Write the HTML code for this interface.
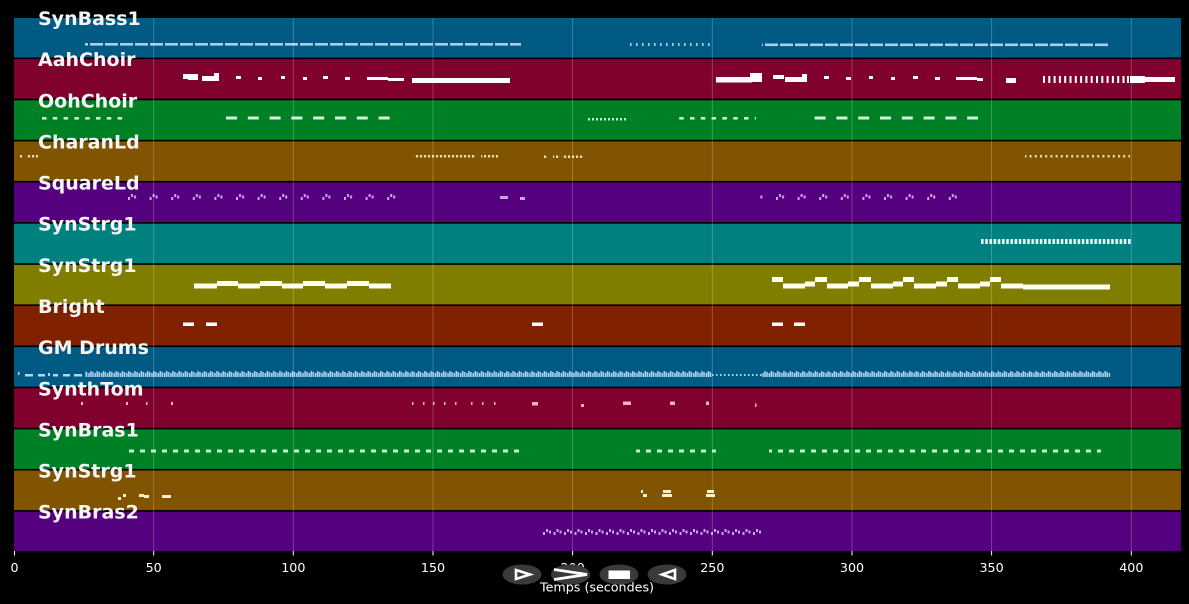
<!DOCTYPE html>
<html><head><meta charset="utf-8"><style>
html,body{margin:0;padding:0;background:#000;}
svg{display:block;}
</style></head><body>
<svg width="1189" height="604" viewBox="0 0 1189 604" xmlns="http://www.w3.org/2000/svg">
<defs>
  <pattern id="pB" x="0" y="0" width="15" height="20" patternUnits="userSpaceOnUse"><rect width="13" height="20" fill="#a8d0ec"/></pattern>
  <pattern id="pBt" x="0" y="0" width="6" height="20" patternUnits="userSpaceOnUse"><rect width="1.6" height="20" fill="#a8d0ec"/></pattern>
  <pattern id="pO1" x="42" y="0" width="10.8" height="20" patternUnits="userSpaceOnUse"><rect width="4.5" height="20" fill="#cfeed6"/></pattern>
  <pattern id="pO2" x="226" y="0" width="21.8" height="20" patternUnits="userSpaceOnUse"><rect width="11" height="20" fill="#d6f2dc"/></pattern>
  <pattern id="pO3" x="0" y="0" width="4" height="20" patternUnits="userSpaceOnUse"><rect width="2" height="20" fill="#cfeed6"/></pattern>
  <pattern id="pC" x="0" y="0" width="4" height="20" patternUnits="userSpaceOnUse"><rect width="2.2" height="20" fill="#f0dcae"/></pattern>
  <pattern id="pC5" x="0" y="0" width="5.2" height="20" patternUnits="userSpaceOnUse"><rect width="2" height="20" fill="#f0dcae"/></pattern>
  <pattern id="pS" x="128" y="194" width="21.6" height="7" patternUnits="userSpaceOnUse"><rect x="0" y="3" width="2" height="3" fill="#c9a6e6"/><rect x="3" y="0" width="2" height="3" fill="#c9a6e6"/><rect x="6" y="1.5" width="2" height="3" fill="#c9a6e6"/></pattern>
  <pattern id="pS2" x="543" y="529" width="10.5" height="7" patternUnits="userSpaceOnUse"><rect x="0" y="3" width="2" height="3" fill="#c9a6e6"/><rect x="3" y="0" width="2" height="3" fill="#c9a6e6"/><rect x="6" y="1.5" width="2" height="3" fill="#c9a6e6"/></pattern>
  <pattern id="pT" x="981" y="0" width="4.2" height="20" patternUnits="userSpaceOnUse"><rect width="2.6" height="20" fill="#e6f6f6"/></pattern>
  <pattern id="pD" x="0" y="371" width="6.3" height="6" patternUnits="userSpaceOnUse"><rect x="0" y="2" width="1.5" height="4" fill="#b0d6f0"/><rect x="2" y="0" width="1.5" height="6" fill="#b0d6f0"/><rect x="4" y="1" width="1.5" height="5" fill="#b0d6f0"/></pattern>
  <pattern id="pDd" x="0" y="0" width="4" height="20" patternUnits="userSpaceOnUse"><rect width="1.5" height="20" fill="#b0d6f0"/></pattern>
  <pattern id="pG" x="129" y="0" width="11" height="20" patternUnits="userSpaceOnUse"><rect width="5" height="20" fill="#c8f0d0"/></pattern>
</defs>
<rect width="1189" height="604" fill="#000"/>

<!-- bands -->
<rect x="14" y="18" width="1167" height="39.5" fill="#005a84"/>
<rect x="14" y="59.14" width="1167" height="39.5" fill="#80002e"/>
<rect x="14" y="100.28" width="1167" height="39.5" fill="#008024"/>
<rect x="14" y="141.42" width="1167" height="39.5" fill="#805400"/>
<rect x="14" y="182.56" width="1167" height="39.5" fill="#55007f"/>
<rect x="14" y="223.7" width="1167" height="39.5" fill="#00807e"/>
<rect x="14" y="264.84" width="1167" height="39.5" fill="#807e00"/>
<rect x="14" y="305.98" width="1167" height="39.5" fill="#802200"/>
<rect x="14" y="347.12" width="1167" height="39.5" fill="#005a84"/>
<rect x="14" y="388.26" width="1167" height="39.5" fill="#80002e"/>
<rect x="14" y="429.4" width="1167" height="39.5" fill="#008024"/>
<rect x="14" y="470.54" width="1167" height="39.5" fill="#805400"/>
<rect x="14" y="511.68" width="1167" height="39.5" fill="#55007f"/>

<!-- Band 0 SynBass1 -->
<rect x="85" y="43" width="436" height="2.6" fill="url(#pB)"/>
<rect x="630" y="43" width="82" height="3" fill="url(#pBt)"/>
<rect x="762" y="43.5" width="348" height="2.6" fill="url(#pB)"/>

<!-- Band 1 AahChoir -->
<g fill="#ffffff">
<rect x="183" y="74" width="15" height="5"/>
<rect x="188" y="76" width="10" height="4"/>
<rect x="202" y="76" width="17" height="5"/>
<rect x="214" y="73" width="5" height="8"/>
<rect x="236" y="76" width="5" height="3"/>
<rect x="258" y="77" width="4" height="3"/>
<rect x="281" y="76" width="4" height="3"/>
<rect x="303" y="77" width="4" height="3"/>
<rect x="323" y="76" width="5" height="3"/>
<rect x="345" y="77" width="5" height="3"/>
<rect x="367" y="77" width="21" height="3"/>
<rect x="388" y="78" width="16" height="3"/>
<rect x="412" y="78" width="98" height="5"/>
<rect x="716" y="77" width="36" height="5.5"/>
<rect x="750" y="73" width="12" height="9"/>
<rect x="773" y="75" width="11" height="4"/>
<rect x="785" y="77" width="22" height="5"/>
<rect x="802" y="74" width="5" height="8"/>
<rect x="824" y="76" width="5" height="3"/>
<rect x="846" y="77" width="5" height="3"/>
<rect x="869" y="76" width="4" height="3"/>
<rect x="891" y="77" width="4" height="3"/>
<rect x="913" y="76" width="5" height="3"/>
<rect x="935" y="77" width="5" height="3"/>
<rect x="956" y="77" width="21" height="3"/>
<rect x="977" y="78" width="6" height="3"/>
<rect x="1006" y="78" width="10" height="5"/>
<rect x="1130" y="77" width="45" height="5"/>
<rect x="1130" y="76" width="15" height="7"/>
</g>
<rect x="1043" y="76" width="85" height="7" fill="url(#pC5)" opacity="0"/>
<g fill="#ffffff">
<rect x="1043" y="76" width="2" height="7"/><rect x="1048.3" y="76" width="2" height="7"/><rect x="1053.6" y="76" width="2" height="7"/><rect x="1058.9" y="76" width="2" height="7"/><rect x="1064.2" y="76" width="2" height="7"/><rect x="1069.5" y="76" width="2" height="7"/><rect x="1074.8" y="76" width="2" height="7"/><rect x="1080.1" y="76" width="2" height="7"/><rect x="1085.4" y="76" width="2" height="7"/><rect x="1090.7" y="76" width="2" height="7"/><rect x="1096" y="76" width="2" height="7"/><rect x="1101.3" y="76" width="2" height="7"/><rect x="1106.6" y="76" width="2" height="7"/><rect x="1111.9" y="76" width="2" height="7"/><rect x="1117.2" y="76" width="2" height="7"/><rect x="1122.5" y="76" width="2" height="7"/><rect x="1127" y="76" width="2" height="7"/>
</g>

<!-- Band 2 OohChoir -->
<rect x="42" y="117" width="83" height="2.6" fill="url(#pO1)"/>
<rect x="226" y="116.5" width="164" height="3" fill="url(#pO2)"/>
<rect x="587" y="118" width="40" height="2.5" fill="url(#pO3)"/>
<rect x="674" y="117" width="82" height="2.6" fill="url(#pO1)"/>
<rect x="814" y="116.5" width="164" height="3" fill="url(#pO2)"/>

<!-- Band 3 CharanLd -->
<rect x="20" y="155" width="2" height="2.5" fill="#f0dcae"/>
<rect x="26" y="155" width="12" height="2.5" fill="url(#pC)"/>
<rect x="414" y="155" width="61" height="2.5" fill="url(#pC)"/>
<rect x="481" y="155" width="17" height="2.5" fill="url(#pC)"/>
<rect x="543" y="155.5" width="5" height="2.5" fill="url(#pC)"/>
<rect x="553" y="155.5" width="6" height="2.5" fill="url(#pC)"/>
<rect x="562" y="155.5" width="22" height="2.5" fill="url(#pC)"/>
<rect x="1025" y="155" width="105" height="2.5" fill="url(#pC5)"/>

<!-- Band 4 SquareLd -->
<rect x="128" y="194" width="272" height="7" fill="url(#pS)"/>
<rect x="500" y="196" width="8" height="3" fill="#c9a6e6"/>
<rect x="520" y="197" width="5" height="3" fill="#c9a6e6"/>
<rect x="760" y="194" width="200" height="7" fill="url(#pS)"/>

<!-- Band 5 SynStrg1 teal -->
<rect x="981" y="239" width="151" height="5" fill="url(#pT)"/>

<!-- Band 6 SynStrg1 olive -->
<g fill="#fffff0">
<rect x="194" y="283.5" width="23" height="5"/>
<rect x="217" y="281" width="21" height="5"/>
<rect x="238" y="283.5" width="22" height="5"/>
<rect x="260" y="281" width="22" height="5"/>
<rect x="282" y="283.5" width="21" height="5"/>
<rect x="303" y="281" width="22" height="5"/>
<rect x="325" y="283.5" width="22" height="5"/>
<rect x="347" y="281" width="22" height="5"/>
<rect x="369" y="283.5" width="22" height="5"/>

<rect x="772" y="277" width="11" height="5"/>
<rect x="783" y="283.5" width="22" height="5"/>
<rect x="805" y="281.5" width="10" height="5"/>
<rect x="815" y="277" width="12" height="5"/>
<rect x="827" y="283.5" width="21" height="5"/>
<rect x="848" y="281.5" width="11" height="5"/>
<rect x="859" y="277" width="12" height="5"/>
<rect x="871" y="283.5" width="22" height="5"/>
<rect x="893" y="281.5" width="10" height="5"/>
<rect x="903" y="277" width="11" height="5"/>
<rect x="914" y="283.5" width="22" height="5"/>
<rect x="936" y="281.5" width="11" height="5"/>
<rect x="947" y="277" width="11" height="5"/>
<rect x="958" y="283.5" width="22" height="5"/>
<rect x="980" y="281.5" width="10" height="5"/>
<rect x="990" y="277" width="11" height="5"/>
<rect x="1001" y="283.5" width="22" height="5"/>
<rect x="1023" y="284.5" width="87" height="5"/>
</g>

<!-- Band 7 Bright -->
<g fill="#ffffff">
<rect x="183" y="322.5" width="11" height="3.5"/>
<rect x="206" y="322.5" width="11" height="3.5"/>
<rect x="532" y="322.5" width="11" height="3.5"/>
<rect x="772" y="322.5" width="11" height="3.5"/>
<rect x="794" y="322.5" width="11" height="3.5"/>
</g>

<!-- Band 8 GM Drums -->
<g fill="#b0d6f0">
<rect x="18" y="372" width="1.5" height="3"/>
<rect x="25" y="374" width="8" height="2.5"/>
<rect x="38" y="374" width="7" height="2.5"/>
<rect x="48" y="373" width="2" height="3"/>
<rect x="53" y="374" width="5" height="2.5"/>
<rect x="63" y="374" width="7" height="2.5"/>
<rect x="74" y="374" width="8" height="2.5"/>
</g>
<rect x="85" y="371" width="627" height="6" fill="url(#pD)"/>
<rect x="712" y="374" width="50" height="2" fill="url(#pDd)"/>
<rect x="762" y="371" width="348" height="6" fill="url(#pD)"/>

<!-- Band 9 SynthTom -->
<g fill="#f0b4c8">
<rect x="81" y="402" width="2" height="3"/>
<rect x="126" y="402" width="2" height="3"/>
<rect x="146" y="402" width="1.5" height="3"/>
<rect x="171" y="402" width="2" height="3"/>
<rect x="412" y="402" width="1.5" height="3"/>
<rect x="423" y="402" width="1.5" height="3"/>
<rect x="433" y="402" width="1.5" height="3"/>
<rect x="444" y="402" width="1.5" height="3"/>
<rect x="455" y="402" width="1.5" height="3"/>
<rect x="471" y="402" width="1.5" height="3"/>
<rect x="482" y="402" width="1.5" height="3"/>
<rect x="494" y="402" width="1.5" height="3"/>
<rect x="532" y="402" width="6" height="3.5"/>
<rect x="581" y="404" width="3" height="3"/>
<rect x="623" y="401.5" width="8" height="3.5"/>
<rect x="670" y="401.5" width="5" height="3.5"/>
<rect x="706" y="401.5" width="3" height="3.5"/>
<rect x="755" y="403.5" width="1.5" height="3.5"/>
</g>

<!-- Band 10 SynBras1 -->
<rect x="129" y="449.5" width="391" height="3" fill="url(#pG)"/>
<rect x="636" y="449.5" width="80" height="3" fill="url(#pG)"/>
<rect x="769" y="449.5" width="332" height="3" fill="url(#pG)"/>

<!-- Band 11 SynStrg1 brown -->
<g fill="#fff0c8">
<rect x="118" y="497" width="3" height="3"/>
<rect x="123" y="494" width="3" height="3"/>
<rect x="139" y="494" width="5" height="3"/>
<rect x="144" y="495" width="5" height="3"/>
<rect x="162" y="495" width="9" height="3"/>
<rect x="641" y="490" width="2" height="3"/>
<rect x="643" y="494" width="4" height="3"/>
<rect x="663" y="490" width="8" height="3"/>
<rect x="662" y="494" width="10" height="3"/>
<rect x="707" y="490" width="7" height="3"/>
<rect x="706" y="494" width="9" height="3"/>
</g>

<!-- Band 12 SynBras2 -->
<rect x="543" y="529" width="219" height="7" fill="url(#pS2)"/>

<!-- gridlines -->
<g stroke="#ffffff" stroke-opacity="0.25" stroke-width="0.9">
<line x1="153.7" y1="18" x2="153.7" y2="551"/>
<line x1="293.3" y1="18" x2="293.3" y2="551"/>
<line x1="433" y1="18" x2="433" y2="551"/>
<line x1="572.6" y1="18" x2="572.6" y2="551"/>
<line x1="712.3" y1="18" x2="712.3" y2="551"/>
<line x1="852" y1="18" x2="852" y2="551"/>
<line x1="991.6" y1="18" x2="991.6" y2="551"/>
<line x1="1131.3" y1="18" x2="1131.3" y2="551"/>
</g>

<!-- ticks -->
<g stroke="#ffffff" stroke-width="1">
<line x1="14.5" y1="551" x2="14.5" y2="555.5"/>
<line x1="153.7" y1="551" x2="153.7" y2="555.5"/>
<line x1="293.3" y1="551" x2="293.3" y2="555.5"/>
<line x1="433" y1="551" x2="433" y2="555.5"/>
<line x1="572.6" y1="551" x2="572.6" y2="555.5"/>
<line x1="712.3" y1="551" x2="712.3" y2="555.5"/>
<line x1="852" y1="551" x2="852" y2="555.5"/>
<line x1="991.6" y1="551" x2="991.6" y2="555.5"/>
<line x1="1131.3" y1="551" x2="1131.3" y2="555.5"/>
</g>
<g font-family="'DejaVu Sans', 'Liberation Sans', sans-serif" font-size="12.7" fill="#ffffff" text-anchor="middle">
<text x="14.5" y="572">0</text>
<text x="153.7" y="572">50</text>
<text x="293.3" y="572">100</text>
<text x="433" y="572">150</text>
<text x="572.6" y="572">200</text>
<text x="712.3" y="572">250</text>
<text x="852" y="572">300</text>
<text x="991.6" y="572">350</text>
<text x="1131.3" y="572">400</text>
</g>

<!-- track labels -->
<g font-family="'DejaVu Sans', 'Liberation Sans', sans-serif" font-weight="bold" font-size="19" fill="#f5f5f5">
<text x="38" y="25">SynBass1</text>
<text x="38" y="66.1">AahChoir</text>
<text x="38" y="107.3">OohChoir</text>
<text x="38" y="148.4">CharanLd</text>
<text x="38" y="189.6">SquareLd</text>
<text x="38" y="230.7">SynStrg1</text>
<text x="38" y="271.8">SynStrg1</text>
<text x="38" y="313">Bright</text>
<text x="38" y="354.1">GM Drums</text>
<text x="38" y="395.3">SynthTom</text>
<text x="38" y="436.4">SynBras1</text>
<text x="38" y="477.5">SynStrg1</text>
<text x="38" y="518.7">SynBras2</text>
</g>

<!-- toolbar buttons -->
<g fill="#3a3a3a">
<ellipse cx="522" cy="574.5" rx="19.5" ry="10"/>
<ellipse cx="570.5" cy="574.5" rx="19.5" ry="10"/>
<ellipse cx="619" cy="574.5" rx="19.5" ry="10"/>
<ellipse cx="667" cy="574.5" rx="19.5" ry="10"/>
</g>
<polygon points="516,570 530,574.5 516,579" fill="none" stroke="#ffffff" stroke-width="2.6" stroke-linejoin="miter"/>
<polyline points="554,569.5 587,574.5 554,579.5" fill="none" stroke="#ffffff" stroke-width="2.8"/>
<rect x="608.5" y="570.5" width="21.5" height="8.5" fill="#ffffff"/>
<polygon points="675,570 662,574.5 675,579" fill="none" stroke="#ffffff" stroke-width="2.6"/>

<!-- x label -->
<text x="597" y="591.5" font-family="'DejaVu Sans', 'Liberation Sans', sans-serif" font-size="12.7" fill="#ffffff" text-anchor="middle">Temps (secondes)</text>
</svg>
</body></html>
